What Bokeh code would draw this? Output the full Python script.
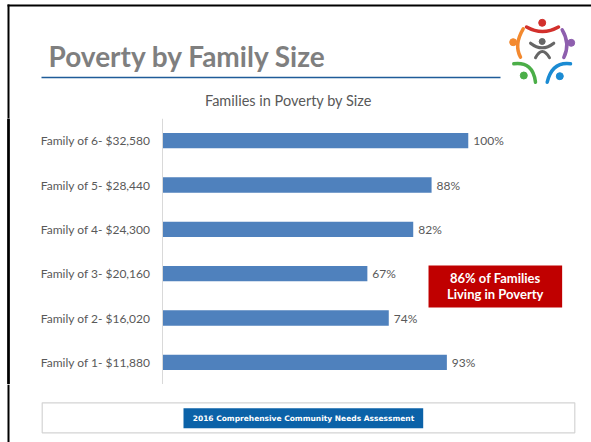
from bokeh.plotting import figure
from bokeh.models import Range1d, FactorRange, BoxAnnotation
from bokeh.layouts import column
from bokeh.embed import file_html
from bokeh.resources import INLINE
from bokeh.core.properties import value

# ---------------- data ----------------
categories = ["Family of 1- $11,880", "Family of 2- $16,020", "Family of 3- $20,160",
              "Family of 4- $24,300", "Family of 5- $28,440", "Family of 6- $32,580"]
percent = [93, 74, 67, 82, 88, 100]
pct_labels = ["93%", "74%", "67%", "82%", "88%", "100%"]

slide_title = "Poverty by Family Size"
chart_title = "Families in Poverty by Size"
callout_lines = ["86% of Families", "Living in Poverty"]
footer_text = "2016 Comprehensive Community Needs Assessment"

W = 591
TOP_H, CH_H, BOT_H = 118, 266, 58
FONT = "Lato"
GRAY_TXT = "#595959"


def deco_fig(h, w=W):
    p = figure(width=w, height=h, x_range=Range1d(0, w), y_range=Range1d(h, 0),
               x_axis_type=None, y_axis_type=None, toolbar_location=None,
               output_backend="svg", min_border=0, outline_line_color=None)
    return p


# ---------------- top: slide frame, title, logo, chart title ----------------
top = deco_fig(TOP_H)
top.segment(x0=[7, 8], y0=[5, 4], x1=[W, 8], y1=[5, TOP_H],
            line_color="black", line_width=2)
top.text(x=[48], y=[55], text=[slide_title], text_font=value(FONT),
         text_font_style="bold", text_font_size="28px", text_color="#7f7f7f",
         text_baseline="middle")
top.segment(x0=[41], y0=[77], x1=[500], y1=[77], line_color="#1f5c99", line_width=1.5)
top.text(x=[288], y=[100], text=[chart_title], text_font=value(FONT),
         text_font_size="14.5px", text_color=GRAY_TXT, text_align="center",
         text_baseline="middle")

# logo (decorative)
logo_dots_x = [541.7, 512.7, 570.7, 523.3, 559.3, 541.7]
logo_dots_y = [22.3, 41.7, 42.3, 75.0, 75.7, 41.0]
logo_cols = ["#d2302c", "#f3892f", "#8e5fae", "#4bae48", "#1b8bd3", "#666666"]
top.scatter(x=logo_dots_x, y=logo_dots_y, size=[7, 7, 7, 7, 7, 6],
            color=logo_cols, marker="circle")
arcs = [  # x0, y0, x1, y1, cx, cy, colour, width
    (526, 26.5, 558, 26.5, 542, 35.5, "#d2302c", 3.5),
    (522.7, 28.3, 520, 56.7, 513.25, 44.1, "#f3892f", 3.5),
    (561.7, 29.3, 563.3, 57, 570.1, 43.45, "#8e5fae", 3.5),
    (513.3, 63.3, 535, 81.7, 532.45, 60.9, "#4bae48", 3.5),
    (546.7, 81.7, 570, 63.3, 551.65, 60.9, "#1b8bd3", 3.5),
    (530, 42.7, 553.3, 42.7, 541.7, 51.9, "#666666", 3),
    (535, 57.3, 549, 57.3, 541.7, 44.7, "#666666", 3),
]
for a in arcs:
    top.quadratic(x0=[a[0]], y0=[a[1]], x1=[a[2]], y1=[a[3]],
                  cx=[a[4]], cy=[a[5]], line_color=a[6], line_width=a[7],
                  line_cap="round")

# ---------------- chart ----------------
# frame spans the whole width; 0 % sits 162 px from the left, 3.058 px per %
ch = figure(width=W, height=CH_H, y_range=FactorRange(factors=categories),
            x_range=Range1d(-52.98, 140.30), x_axis_type=None, toolbar_location=None,
            output_backend="svg", min_border=0, outline_line_color=None)
ch.ygrid.visible = False
ch.yaxis.fixed_location = 0
ch.yaxis.axis_line_color = "#d9d9d9"
ch.yaxis.major_tick_line_color = None
ch.yaxis.major_tick_out = 0
ch.yaxis.major_tick_in = 0
ch.yaxis.minor_tick_line_color = None
ch.yaxis.major_label_text_font = FONT
ch.yaxis.major_label_text_font_size = "12px"
ch.yaxis.major_label_text_color = GRAY_TXT
ch.yaxis.major_label_standoff = 12

# slide's left edge beside the chart (2 px wide band)
ch.quad(left=[-50.69], right=[-50.04], bottom=[0], top=[6], fill_color="black",
        line_color="black", line_width=0.5)
ch.add_layout(BoxAnnotation(left=-50.69, right=-50.04, fill_color="black",
                            fill_alpha=1.0, line_color=None, level="overlay"))

ch.hbar(y=categories, left=0, right=percent, height=0.345, fill_color="#4f81bd",
        line_color=None)
ch.text(x=percent, y=categories, text=pct_labels, x_offset=5, text_baseline="middle",
        text_font=value(FONT), text_font_size="12px", text_color=GRAY_TXT)

ch.add_layout(BoxAnnotation(left=87.0, right=130.7, bottom=1.737, top=2.684,
                            fill_color="#c00000", fill_alpha=1.0, line_color=None))
ch.text(x=[108.8, 108.8], y=[2.40, 2.04], text=callout_lines, text_align="center",
        text_baseline="middle", text_font=value(FONT), text_font_style="bold",
        text_font_size="13px", text_color="white", level="overlay")

# ---------------- footer ----------------
bot = deco_fig(BOT_H)
bot.segment(x0=[8], y0=[0], x1=[8], y1=[BOT_H], line_color="black", line_width=2)
bot.quad(left=[41.7], right=[574.3], top=[18.3], bottom=[48.3], fill_color="white",
         line_color="#d4d4d4", line_width=1.2)
bot.quad(left=[183], right=[422.7], top=[23.7], bottom=[43.7], fill_color="#0b62a8",
         line_color=None)
bot.text(x=[303], y=[33.8], text=[footer_text], text_align="center",
         text_baseline="middle", text_font=value("DejaVu Sans"), text_font_style="bold",
         text_font_size="7.5px", text_color="white")

layout = column(top, ch, bot)

open("out.html", "w").write(file_html(layout, INLINE))
